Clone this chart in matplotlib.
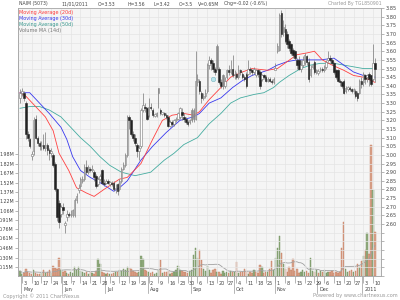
import matplotlib
matplotlib.use("Agg")
import matplotlib.pyplot as plt
import matplotlib.transforms as mtransforms
import numpy as np
import pandas as pd

# ---------------- data ----------------
opens = [3.33, 3.36, 3.36, 3.30, 3.12, 3.09, 3.00, 3.02, 3.21, 3.10,
         3.07, 3.05, 3.06, 3.04, 3.06, 3.03, 3.01, 3.00, 2.95, 2.80,
         2.72, 2.66, 2.70, 2.60, 2.64, 2.66, 2.65, 2.65, 2.65, 2.74,
         2.80, 2.82, 2.85, 2.86, 2.93, 2.90, 2.92, 2.91, 2.90, 2.88,
         2.83, 2.86, 2.91, 2.84, 2.84, 2.85, 2.84, 2.84, 2.84, 2.80,
         2.83, 2.80, 2.85, 2.92, 2.94, 3.00, 3.22, 3.20, 3.12, 3.10,
         3.06, 3.02, 3.05, 3.26, 3.28, 3.27, 3.23, 3.28, 3.26, 3.23,
         3.23, 3.39, 3.26, 3.24, 3.24, 3.23, 3.22, 3.17, 3.19, 3.18,
         3.20, 3.21, 3.22, 3.25, 3.22, 3.21, 3.19, 3.19, 3.26, 3.26,
         3.21, 3.42, 3.43, 3.36, 3.33, 3.34, 3.37, 3.52, 3.55, 3.53,
         3.50, 3.63, 3.50, 3.42, 3.46, 3.40, 3.45, 3.49, 3.48, 3.50,
         3.46, 3.47, 3.45, 3.49, 3.47, 3.45, 3.47, 3.47, 3.50, 3.49,
         3.48, 3.46, 3.49, 3.48, 3.44, 3.46, 3.45, 3.43, 3.44, 3.43,
         3.42, 3.50, 3.60, 3.61, 3.82, 3.74, 3.73, 3.70, 3.66, 3.64,
         3.61, 3.60, 3.55, 3.55, 3.50, 3.52, 3.53, 3.57, 3.54, 3.46,
         3.51, 3.54, 3.48, 3.48, 3.49, 3.50, 3.49, 3.51, 3.55, 3.56,
         3.55, 3.53, 3.49, 3.49, 3.43, 3.42, 3.43, 3.37, 3.39, 3.39,
         3.38, 3.37, 3.37, 3.36, 3.36, 3.43, 3.42, 3.46, 3.45, 3.47,
         3.46, 3.44, 3.53]
highs = [3.38, 3.39, 3.37, 3.31, 3.14, 3.10, 3.02, 3.22, 3.23, 3.11,
         3.08, 3.08, 3.12, 3.13, 3.07, 3.04, 3.04, 3.01, 2.96, 2.81,
         2.74, 2.71, 2.72, 2.62, 2.68, 2.67, 2.68, 2.69, 2.75, 2.78,
         2.83, 2.87, 2.88, 2.95, 2.97, 2.94, 2.93, 2.94, 2.91, 2.89,
         2.87, 2.89, 2.92, 2.86, 2.86, 2.86, 2.85, 2.85, 2.85, 2.83,
         2.84, 2.86, 2.93, 2.96, 3.01, 3.23, 3.23, 3.21, 3.14, 3.12,
         3.07, 3.06, 3.27, 3.36, 3.30, 3.28, 3.33, 3.30, 3.27, 3.24,
         3.25, 3.39, 3.27, 3.25, 3.25, 3.24, 3.23, 3.20, 3.20, 3.21,
         3.22, 3.25, 3.28, 3.27, 3.24, 3.22, 3.20, 3.21, 3.27, 3.27,
         3.60, 3.47, 3.44, 3.37, 3.36, 3.38, 3.53, 3.57, 3.56, 3.55,
         3.51, 3.64, 3.51, 3.44, 3.47, 3.45, 3.50, 3.52, 3.55, 3.58,
         3.49, 3.48, 3.52, 3.50, 3.48, 3.46, 3.48, 3.55, 3.51, 3.50,
         3.51, 3.50, 3.50, 3.49, 3.47, 3.47, 3.46, 3.45, 3.45, 3.44,
         3.45, 3.53, 3.65, 3.82, 3.84, 3.78, 3.76, 3.72, 3.67, 3.65,
         3.62, 3.61, 3.56, 3.57, 3.55, 3.57, 3.59, 3.58, 3.56, 3.52,
         3.53, 3.55, 3.50, 3.50, 3.51, 3.51, 3.52, 3.55, 3.60, 3.58,
         3.56, 3.54, 3.50, 3.50, 3.44, 3.43, 3.44, 3.40, 3.40, 3.40,
         3.39, 3.39, 3.38, 3.37, 3.44, 3.45, 3.48, 3.47, 3.47, 3.48,
         3.46, 3.64, 3.56]
lows = [3.30, 3.34, 3.31, 3.09, 3.08, 3.04, 2.97, 3.00, 3.09, 3.05,
        3.03, 3.03, 3.03, 3.02, 3.00, 2.97, 2.99, 2.93, 2.79, 2.62,
        2.58, 2.64, 2.66, 2.55, 2.62, 2.64, 2.64, 2.64, 2.64, 2.72,
        2.78, 2.81, 2.84, 2.85, 2.89, 2.89, 2.90, 2.90, 2.85, 2.81,
        2.82, 2.85, 2.83, 2.82, 2.83, 2.83, 2.82, 2.82, 2.79, 2.78,
        2.77, 2.79, 2.84, 2.91, 2.93, 2.99, 3.15, 3.11, 3.08, 3.05,
        2.99, 2.97, 3.04, 3.25, 3.25, 3.20, 3.22, 3.26, 3.22, 3.22,
        3.22, 3.27, 3.23, 3.23, 3.22, 3.21, 3.16, 3.16, 3.17, 3.17,
        3.19, 3.20, 3.21, 3.20, 3.19, 3.18, 3.17, 3.18, 3.19, 3.19,
        3.20, 3.40, 3.35, 3.30, 3.32, 3.33, 3.36, 3.50, 3.49, 3.48,
        3.46, 3.49, 3.41, 3.39, 3.38, 3.39, 3.44, 3.46, 3.47, 3.45,
        3.44, 3.44, 3.44, 3.46, 3.44, 3.43, 3.39, 3.46, 3.47, 3.46,
        3.47, 3.45, 3.45, 3.38, 3.43, 3.44, 3.42, 3.42, 3.42, 3.41,
        3.41, 3.49, 3.59, 3.60, 3.68, 3.69, 3.65, 3.62, 3.60, 3.58,
        3.56, 3.55, 3.50, 3.49, 3.48, 3.51, 3.52, 3.52, 3.42, 3.45,
        3.50, 3.47, 3.47, 3.46, 3.48, 3.48, 3.48, 3.50, 3.54, 3.54,
        3.52, 3.47, 3.44, 3.42, 3.40, 3.39, 3.35, 3.36, 3.37, 3.37,
        3.36, 3.35, 3.33, 3.31, 3.35, 3.39, 3.40, 3.41, 3.42, 3.40,
        3.40, 3.43, 3.42]
closes = [3.36, 3.37, 3.33, 3.12, 3.10, 3.05, 3.00, 3.20, 3.10, 3.07,
          3.05, 3.06, 3.04, 3.06, 3.03, 3.01, 3.02, 2.94, 2.80, 2.64,
          2.61, 2.70, 2.68, 2.60, 2.66, 2.65, 2.66, 2.68, 2.74, 2.76,
          2.80, 2.86, 2.86, 2.93, 2.90, 2.93, 2.91, 2.92, 2.87, 2.82,
          2.86, 2.88, 2.84, 2.83, 2.85, 2.84, 2.84, 2.83, 2.80, 2.81,
          2.79, 2.85, 2.92, 2.94, 3.00, 3.22, 3.20, 3.12, 3.10, 3.07,
          3.02, 3.04, 3.26, 3.29, 3.27, 3.21, 3.28, 3.27, 3.23, 3.23,
          3.24, 3.36, 3.24, 3.24, 3.23, 3.22, 3.17, 3.19, 3.18, 3.20,
          3.21, 3.24, 3.27, 3.23, 3.21, 3.19, 3.18, 3.20, 3.20, 3.21,
          3.43, 3.44, 3.37, 3.33, 3.34, 3.36, 3.52, 3.55, 3.53, 3.50,
          3.48, 3.50, 3.42, 3.40, 3.40, 3.43, 3.49, 3.48, 3.50, 3.46,
          3.47, 3.45, 3.49, 3.48, 3.45, 3.44, 3.40, 3.50, 3.49, 3.48,
          3.50, 3.49, 3.47, 3.40, 3.46, 3.45, 3.43, 3.44, 3.43, 3.42,
          3.44, 3.50, 3.63, 3.81, 3.70, 3.71, 3.66, 3.64, 3.62, 3.59,
          3.58, 3.56, 3.52, 3.50, 3.52, 3.55, 3.58, 3.54, 3.44, 3.50,
          3.52, 3.48, 3.49, 3.48, 3.50, 3.49, 3.51, 3.54, 3.56, 3.55,
          3.53, 3.48, 3.45, 3.43, 3.42, 3.40, 3.36, 3.39, 3.39, 3.38,
          3.37, 3.38, 3.34, 3.33, 3.43, 3.41, 3.47, 3.44, 3.46, 3.44,
          3.41, 3.53, 3.50]
volumes_m = [0.08, 0.04, 0.05, 0.12, 0.06, 0.05, 0.04, 0.09, 0.05, 0.03,
             0.04, 0.06, 0.09, 0.05, 0.07, 0.10, 0.05, 0.16, 0.13, 0.12,
             0.29, 0.10, 0.06, 0.08, 0.05, 0.04, 0.07, 0.05, 0.15, 0.09,
             0.15, 0.08, 0.06, 0.05, 0.07, 0.04, 0.06, 0.05, 0.04, 0.08,
             0.27, 0.20, 0.06, 0.05, 0.04, 0.05, 0.03, 0.04, 0.05, 0.07,
             0.06, 0.10, 0.08, 0.12, 0.10, 0.15, 0.13, 0.12, 0.08, 0.06,
             0.05, 0.07, 0.32, 0.28, 0.10, 0.08, 0.07, 0.05, 0.06, 0.04,
             0.05, 0.10, 0.26, 0.05, 0.07, 0.06, 0.08, 0.04, 0.05, 0.06,
             0.09, 0.16, 0.10, 0.08, 0.06, 0.07, 0.05, 0.08, 0.10, 0.34,
             0.45, 0.30, 0.42, 0.26, 0.12, 0.08, 0.17, 0.10, 0.05, 0.09,
             0.11, 0.07, 0.06, 0.04, 0.08, 0.05, 0.06, 0.05, 0.08, 0.06,
             0.07, 0.23, 0.05, 0.07, 0.06, 0.12, 0.08, 0.04, 0.07, 0.05,
             0.10, 0.07, 0.05, 0.18, 0.15, 0.05, 0.07, 0.06, 0.12, 0.25,
             0.10, 0.30, 0.46, 0.65, 0.37, 0.20, 0.12, 0.06, 0.15, 0.10,
             0.28, 0.08, 0.12, 0.05, 0.07, 0.09, 0.06, 0.08, 0.05, 0.30,
             0.08, 0.07, 0.10, 0.05, 0.08, 0.06, 0.10, 0.05, 0.07, 0.06,
             0.08, 0.05, 0.07, 0.05, 0.07, 0.45, 0.88, 0.12, 0.06, 0.08,
             0.10, 0.06, 0.08, 0.20, 0.15, 0.25, 0.32, 0.42, 0.70, 0.35,
             2.13, 1.40, 0.72]

# moving averages (trading-day index, price)
ma20_days = [0, 3, 8, 13, 17, 20, 25, 29, 34, 38, 43, 47, 51, 55, 62, 68, 73, 78, 84, 89,
             92, 97, 103, 108, 114, 119, 127, 132, 137, 142, 147, 151, 155, 160, 166, 171, 176, 182]
ma20_vals = [3.36, 3.34, 3.28, 3.22, 3.14, 3.01, 2.91, 2.81, 2.78, 2.76, 2.80, 2.83, 2.86, 2.87,
             2.95, 3.09, 3.20, 3.23, 3.24, 3.23, 3.25, 3.32, 3.39, 3.45, 3.48, 3.50, 3.49, 3.50,
             3.54, 3.58, 3.59, 3.60, 3.55, 3.52, 3.49, 3.46, 3.45, 3.42]
ma30_days = [0, 5, 10, 15, 21, 24, 27, 31, 36, 41, 48, 51, 55, 62, 68, 75, 82, 89, 92, 97,
             103, 109, 114, 119, 127, 132, 137, 142, 149, 154, 161, 166, 171, 176, 182]
ma30_vals = [3.36, 3.36, 3.30, 3.24, 3.16, 3.09, 2.99, 2.91, 2.87, 2.84, 2.79, 2.81, 2.85, 2.97,
             3.05, 3.13, 3.20, 3.22, 3.24, 3.30, 3.33, 3.39, 3.43, 3.46, 3.49, 3.52, 3.54, 3.55,
             3.55, 3.55, 3.56, 3.52, 3.48, 3.46, 3.45]
ma50_days = [0, 5, 10, 15, 21, 26, 31, 36, 41, 46, 52, 59, 67, 74, 79, 84, 91, 97, 103, 108,
             113, 120, 125, 130, 133, 138, 144, 149, 154, 161, 166, 171, 176, 182]
ma50_vals = [3.27, 3.28, 3.28, 3.26, 3.22, 3.16, 3.10, 3.05, 2.99, 2.94, 2.90, 2.88, 2.90, 2.97,
             3.01, 3.06, 3.10, 3.18, 3.24, 3.30, 3.33, 3.35, 3.36, 3.39, 3.42, 3.46, 3.50, 3.52,
             3.53, 3.53, 3.52, 3.51, 3.50, 3.50]

# event marker
event_day = [99]
event_price = [3.44]

# axis labels
price_labels = ['3.85', '3.80', '3.75', '3.70', '3.65', '3.60', '3.55', '3.50', '3.45', '3.40',
                '3.35', '3.30', '3.25', '3.20', '3.15', '3.10', '3.05', '3.00', '2.95', '2.90',
                '2.85', '2.80', '2.75', '2.70', '2.65', '2.60']
price_grid_below = ['2.55', '2.50', '2.45', '2.40', '2.35']
vol_labels = ['0.15M', '0.30M', '0.46M', '0.61M', '0.76M', '0.91M', '1.06M', '1.22M',
              '1.37M', '1.52M', '1.67M', '1.82M', '1.98M']
week_labels = ['3', '10', '17', '24', '31', '7', '14', '21', '28', '5', '12', '19', '26',
               '2', '9', '16', '23', '30', '6', '13', '20', '27', '4', '11', '18', '25',
               '1', '8', '15', '22', '29', '6', '13', '20', '27', '3', '10']
week_days = [1 + 5 * k for k in range(len(week_labels))]
month_labels = ['May', 'Jun', 'Jul', 'Aug', 'Sep', 'Oct', 'Nov', 'Dec', '2011']
month_days = [1, 22, 44, 66, 88, 110, 131, 153, 176]

# ---------------- figure ----------------
W, H = 400, 300
fig = plt.figure(figsize=(4, 3), dpi=100)
fig.patch.set_facecolor('white')
L, R, T, B = 18, 381, 8, 276
rect = [L / W, 1 - B / H, (R - L) / W, (B - T) / H]

axv = fig.add_axes(rect)
ax = fig.add_axes(rect, sharex=axv)
ax.patch.set_visible(False)
axv.set_facecolor('#f5f5f5')

n = len(closes)
days = np.arange(n)
o = np.array(opens); c = np.array(closes); h = np.array(highs); lo = np.array(lows)
prev = np.concatenate([[c[0]], c[:-1]])

ax.set_xlim(-1.03, 185.1)
ax.set_ylim(2.2994, 3.8503)
axv.set_ylim(0, (B - 8) / 61.5)

# grid
pticks = [float(s) for s in price_labels + price_grid_below + ['2.30']]
ax.set_yticks(pticks)
ax.set_yticklabels(price_labels + [''] * (len(pticks) - len(price_labels)))
ax.yaxis.tick_right()
ax.tick_params(axis='y', length=2, width=0.5, color='#999999', pad=1.5,
               labelsize=3.6, labelcolor='#444444')
ax.set_xticks(week_days)
ax.set_xticklabels([])
ax.tick_params(axis='x', length=5, width=0.5, color='#999999')
ax.grid(True, color='#e4e4e4', linewidth=0.5)
ax.set_axisbelow(True)

axv.set_yticks([float(s[:-1]) for s in vol_labels])
axv.set_yticklabels(vol_labels)
axv.tick_params(axis='y', length=2, width=0.5, color='#999999', pad=1,
                labelsize=3.4, labelcolor='#444444')
axv.tick_params(axis='x', length=0, labelbottom=False)

for a in (ax, axv):
    for sp in a.spines.values():
        sp.set_color('#aaaaaa')
        sp.set_linewidth(0.6)

# volume
vol = np.array(volumes_m)
vcols = ['#93ad80' if c[i] >= prev[i] else '#daa48c' for i in range(n)]
vedge = ['#6f8f5c' if c[i] >= prev[i] else '#c47a5c' for i in range(n)]
axv.bar(days, vol, width=0.7, color=vcols, edgecolor=vedge, linewidth=0.3, zorder=2)
vma = pd.Series(vol).rolling(14, min_periods=1).mean()
axv.plot(days, vma, color='#a0a0a0', linewidth=0.6, zorder=3)

# moving averages
ax.plot(ma50_days, ma50_vals, color='#45aca0', linewidth=0.6, zorder=3)
ax.plot(ma30_days, ma30_vals, color='#3838ee', linewidth=0.6, zorder=3)
ax.plot(ma20_days, ma20_vals, color='#ff4040', linewidth=0.6, zorder=3)

# candles
ax.vlines(days, lo, h, color='#777777', linewidth=0.5, zorder=4)
for i in range(n):
    if c[i] > o[i]:
        fc, ec = 'white', '#777777'
    elif c[i] < o[i]:
        fc = '#222222' if c[i] < prev[i] else '#8a8a8a'
        ec = fc
    else:
        ax.plot(i, c[i], marker='o', ms=1.8, mfc='white', mec='#777777', mew=0.4, zorder=5)
        continue
    ax.bar(i, abs(c[i] - o[i]), bottom=min(o[i], c[i]), width=0.75,
           color=fc, edgecolor=ec, linewidth=0.4, zorder=5)

ax.plot(event_day, event_price, marker='o', ms=3.2, mfc='#b8e4ea', mec='#78b4c0',
        mew=0.4, linestyle='none', zorder=6)

# x labels
trans = mtransforms.blended_transform_factory(ax.transData, ax.transAxes)
for d, lab in zip(week_days, week_labels):
    ax.text(d + 0.7, -7.5 / (B - T), lab, transform=trans, fontsize=3.5,
            color='#444444', ha='left', va='center')
for d, lab in zip(month_days, month_labels):
    ax.plot([d - 0.5, d - 0.5], [0, -17 / (B - T)], transform=trans, color='#999999',
            linewidth=0.5, clip_on=False)
    ax.text(d + 0.7, -13.5 / (B - T), lab, transform=trans, fontsize=3.5,
            color='#444444', ha='left', va='center')

# header / legend / footer
def ftext(x, y, s, **kw):
    fig.text(x / W, 1 - y / H, s, va='center', **kw)

hdr = dict(fontsize=3.3, color='#444444')
ftext(19, 4, 'NAIM (5073)', **hdr)
ftext(61, 4, '11/01/2011', **hdr)
ftext(98, 4, 'O=3.53', **hdr)
ftext(127, 4, 'H=3.56', **hdr)
ftext(154, 4, 'L=3.42', **hdr)
ftext(179, 4, 'C=3.5', **hdr)
ftext(198, 4, 'V=0.65M', **hdr)
ftext(224, 4, 'Chg=-0.02 (-0.6%)', **hdr)
fig.text(382 / W, 1 - 4 / H, 'Charted By TGL850901', va='center', ha='right',
         fontsize=3.3, color='#999999')

ftext(19, 12.5, 'Moving Average (20d)', fontsize=3.5, color='#ff3a3a')
ftext(19, 18.5, 'Moving Average (30d)', fontsize=3.5, color='#3a3af0')
ftext(19, 24.5, 'Moving Average (50d)', fontsize=3.5, color='#3a9a90')
ftext(19, 30.5, 'Volume MA (14d)', fontsize=3.5, color='#777777')

ftext(3, 296, 'Copyright \u00a9 2011 ChartNexus', fontsize=3.6, color='#999999')
fig.text(398 / W, 1 - 296 / H, 'Powered by www.chartnexus.com', va='center', ha='right',
         fontsize=3.6, color='#999999')

fig.savefig('out.png', dpi=100, facecolor='white')
